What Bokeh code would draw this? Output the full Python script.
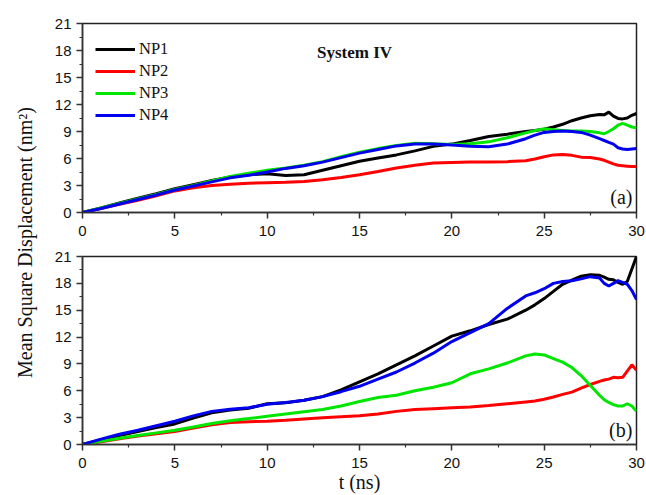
from math import pi
from bokeh.plotting import figure
from bokeh.models import FixedTicker, Range1d, Label, Legend, LegendItem
from bokeh.layouts import row, column
from bokeh.embed import file_html
from bokeh.resources import INLINE

# ---------------- data ----------------
t = [0, 1, 2, 3, 4, 5, 6, 7, 8, 9, 10, 11, 12, 13, 14, 15, 16, 17, 18, 19, 20,
     21, 22, 23, 24, 24.5, 25, 25.5, 26, 26.5, 27, 27.5, 28, 28.25, 28.5, 28.75,
     29, 29.25, 29.5, 29.75, 30]

series_names = ["NP1", "NP2", "NP3", "NP4"]
series_colors = ["#000000", "#ff0000", "#00e600", "#0000ee"]

# panel (a)
a_np1 = [0, 0.5, 1.05, 1.6, 2.1, 2.65, 3.1, 3.55, 3.95, 4.2, 4.3, 4.1, 4.2, 4.7, 5.2, 5.7,
         6.05, 6.4, 6.85, 7.35, 7.6, 8.0, 8.45, 8.7, 9.0, 9.1, 9.25, 9.5, 9.8, 10.2, 10.5,
         10.75, 10.9, 10.85, 11.15, 10.7, 10.45, 10.4, 10.5, 10.8, 11.0]
a_np2 = [0, 0.45, 0.9, 1.35, 1.85, 2.4, 2.75, 3.0, 3.15, 3.25, 3.3, 3.35, 3.45, 3.65, 3.9, 4.2,
         4.55, 4.95, 5.25, 5.5, 5.55, 5.6, 5.6, 5.65, 5.75, 5.95, 6.2, 6.4, 6.45, 6.35, 6.15,
         6.1, 5.95, 5.8, 5.6, 5.4, 5.25, 5.2, 5.15, 5.1, 5.1]
a_np3 = [0, 0.5, 1.0, 1.5, 2.0, 2.55, 3.0, 3.5, 4.0, 4.35, 4.7, 4.95, 5.25, 5.65, 6.2, 6.7,
         7.1, 7.45, 7.7, 7.65, 7.55, 7.65, 7.85, 8.3, 8.85, 9.1, 9.3, 9.2, 9.1, 9.05, 9.05,
         9.0, 8.85, 8.75, 9.0, 9.3, 9.7, 9.9, 9.7, 9.5, 9.4]
a_np4 = [0, 0.45, 0.95, 1.45, 1.95, 2.5, 2.95, 3.4, 3.85, 4.15, 4.5, 4.9, 5.2, 5.6, 6.1, 6.6,
         7.0, 7.4, 7.6, 7.6, 7.5, 7.35, 7.3, 7.6, 8.2, 8.6, 8.9, 9.0, 9.05, 9.0, 8.9,
         8.6, 8.2, 8.0, 7.8, 7.6, 7.2, 7.05, 7.0, 7.05, 7.1]

# panel (b)
b_np1 = [0, 0.5, 1.0, 1.45, 1.9, 2.3, 2.95, 3.55, 3.85, 4.05, 4.55, 4.65, 4.95, 5.35, 6.1, 7.0,
         7.9, 8.9, 9.9, 11.0, 12.1, 12.7, 13.4, 14.0, 15.0, 15.6, 16.3, 17.1, 17.9, 18.35, 18.8,
         18.95, 18.9, 18.7, 18.45, 18.4, 18.1, 17.9, 18.2, 19.6, 21.0]
b_np2 = [0, 0.3, 0.65, 0.95, 1.2, 1.45, 1.85, 2.2, 2.45, 2.55, 2.6, 2.7, 2.85, 3.0, 3.1, 3.2,
         3.4, 3.7, 3.9, 4.0, 4.1, 4.2, 4.35, 4.55, 4.75, 4.85, 5.05, 5.3, 5.6, 5.85, 6.3,
         6.7, 7.05, 7.2, 7.3, 7.5, 7.45, 7.5, 8.2, 8.9, 8.3]
b_np3 = [0, 0.35, 0.7, 1.0, 1.3, 1.6, 1.95, 2.35, 2.65, 2.9, 3.15, 3.4, 3.65, 3.9, 4.3, 4.8,
         5.25, 5.5, 6.0, 6.4, 6.9, 7.9, 8.45, 9.1, 9.9, 10.1, 10.0, 9.6, 9.2, 8.6, 7.7,
         6.6, 5.5, 5.0, 4.7, 4.45, 4.3, 4.3, 4.55, 4.3, 3.7]
b_np4 = [0, 0.6, 1.15, 1.6, 2.1, 2.6, 3.2, 3.7, 3.95, 4.1, 4.5, 4.7, 4.95, 5.35, 5.9, 6.5,
         7.3, 8.1, 9.1, 10.2, 11.5, 12.5, 13.5, 15.2, 16.6, 16.95, 17.4, 18.0, 18.2, 18.3, 18.5,
         18.75, 18.6, 18.0, 17.7, 18.0, 18.3, 18.1, 17.9, 17.2, 16.2]

x_ticks = [0, 5, 10, 15, 20, 25, 30]
x_minor = [2.5, 7.5, 12.5, 17.5, 22.5, 27.5]
y_ticks = [0, 3, 6, 9, 12, 15, 18, 21]
y_minor = [1.5, 4.5, 7.5, 10.5, 13.5, 16.5, 19.5]

AX = "#333333"
TICK_FONT = "Liberation Sans"
SERIF = "Liberation Serif"


def make_panel(ys, height, b_top, b_bottom, tag, tag_y, with_legend, xlabel):
    p = figure(width=606, height=height, x_range=Range1d(0, 30), y_range=Range1d(0, 21),
               toolbar_location=None, output_backend="svg",
               min_border_left=42, min_border_right=10,
               min_border_top=b_top, min_border_bottom=b_bottom)
    p.xgrid.visible = False
    p.ygrid.visible = False
    p.outline_line_color = "#222222"
    p.outline_line_width = 1.5
    p.outline_line_alpha = 1.0
    p.xaxis.ticker = FixedTicker(ticks=x_ticks, minor_ticks=x_minor)
    p.yaxis.ticker = FixedTicker(ticks=y_ticks, minor_ticks=y_minor)
    for ax in (p.xaxis[0], p.yaxis[0]):
        ax.axis_line_color = AX
        ax.axis_line_width = 1.5
        ax.major_tick_line_color = AX
        ax.major_tick_line_width = 1.5
        ax.minor_tick_line_color = AX
        ax.minor_tick_line_width = 1.2
        ax.major_tick_in = 0
        ax.major_tick_out = 6
        ax.minor_tick_in = 0
        ax.minor_tick_out = 3
        ax.major_label_text_font = TICK_FONT
        ax.major_label_text_font_size = "15px"
        ax.major_label_text_color = "#111111"
    p.xaxis.major_label_standoff = 7
    p.yaxis.major_label_standoff = 5
    if xlabel:
        p.xaxis.axis_label = xlabel
        p.xaxis.axis_label_text_font = SERIF
        p.xaxis.axis_label_text_font_style = "normal"
        p.xaxis.axis_label_text_font_size = "20px"
        p.xaxis.axis_label_text_color = "#111111"
        p.xaxis.axis_label_standoff = 0

    renderers = []
    for name, col, y in zip(series_names, series_colors, ys):
        r = p.line(t, y, line_color=col, line_width=3)
        renderers.append((name, r))

    if with_legend:
        legend = Legend(items=[LegendItem(label=n, renderers=[r]) for n, r in renderers],
                        location=(13, 87), border_line_color=None,
                        background_fill_alpha=0, glyph_width=40, glyph_height=20,
                        label_height=20, spacing=2, padding=5, margin=0,
                        label_standoff=4, label_text_font=SERIF,
                        label_text_font_size="16.5px", label_text_color="#111111")
        p.add_layout(legend)
        p.add_layout(Label(x=14.73, y=17.8, text="System IV", text_align="center",
                           text_baseline="alphabetic", text_font=SERIF,
                           text_font_style="bold", text_font_size="17px",
                           text_color="#111111"))

    p.add_layout(Label(x=29.78, y=tag_y, text=tag, text_align="right",
                       text_baseline="alphabetic", text_font=SERIF,
                       text_font_size="20px", text_color="#111111"))
    return p


pa = make_panel([a_np1, a_np2, a_np3, a_np4], 242, 23, 30, "(a)", 1.7, True, None)
pb = make_panel([b_np1, b_np2, b_np3, b_np4], 253, 14, 50, "(b)", 1.6, False, "t (ns)")

lf = figure(width=40, height=495, x_range=Range1d(0, 40), y_range=Range1d(0, 495),
            toolbar_location=None, output_backend="svg", min_border=0,
            x_axis_location=None, y_axis_location=None)
lf.outline_line_color = None
lf.grid.visible = False
lf.add_layout(Label(x=24, y=495 - 242, text="Mean Square Displacement (nm\u00b2)",
                    angle=pi / 2, text_align="center", text_baseline="middle",
                    text_font=SERIF, text_font_size="20px", text_color="#111111"))

layout = row(lf, column(pa, pb))
open("out.html", "w").write(file_html(layout, INLINE))
